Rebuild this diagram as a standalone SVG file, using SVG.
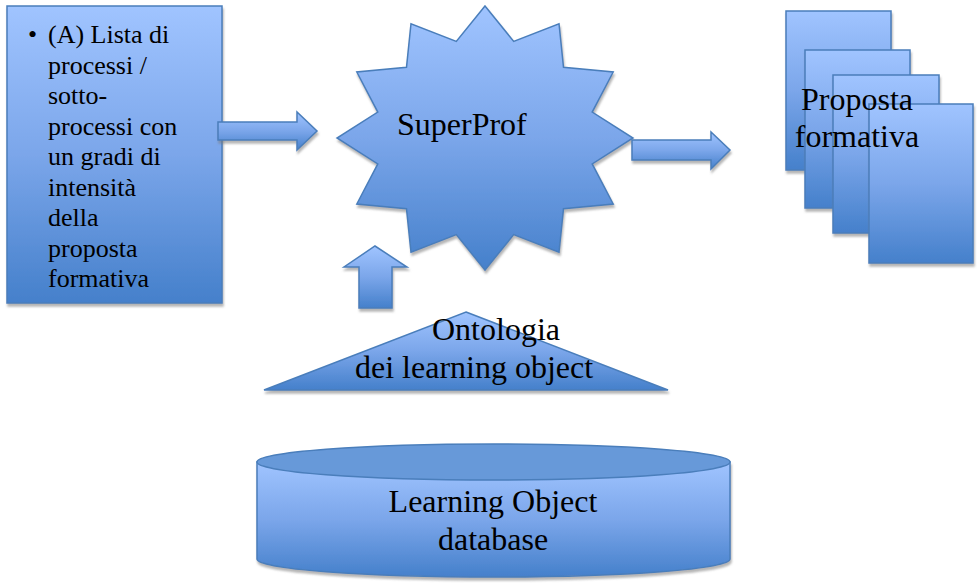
<svg xmlns="http://www.w3.org/2000/svg" width="979" height="583" viewBox="0 0 979 583">
<defs>
<linearGradient id="g" x1="0" y1="0" x2="0" y2="1">
<stop offset="0" stop-color="#a0c4ff"/>
<stop offset="0.5" stop-color="#7ba6ea"/>
<stop offset="1" stop-color="#4580cb"/>
</linearGradient>
<filter id="sh" x="-10%" y="-10%" width="120%" height="130%">
<feDropShadow dx="1" dy="3" stdDeviation="0.8" flood-color="#7a7a7a" flood-opacity="0.55"/>
</filter>
<style>
.s{fill:url(#g);stroke:#4a7ebb;stroke-width:1.5;filter:url(#sh)}
.t26{font-size:26px}
.t32{font-size:32px}
</style>
</defs>
<rect width="979" height="583" fill="#fff"/>
<g font-family="Liberation Serif, Tinos, DejaVu Serif, serif" fill="#000">
<g id="lista">
<rect class="s" x="7" y="6" width="215" height="297"/>
<text class="t26" x="28" y="43">•</text>
<text class="t26">
<tspan x="48" y="43">(A) Lista di</tspan>
<tspan x="48" y="73.5">processi /</tspan>
<tspan x="48" y="104">sotto-</tspan>
<tspan x="48" y="134.5">processi con</tspan>
<tspan x="48" y="165">un gradi di</tspan>
<tspan x="48" y="195.5">intensità</tspan>
<tspan x="48" y="226">della</tspan>
<tspan x="48" y="256.5">proposta</tspan>
<tspan x="48" y="287">formativa</tspan>
</text>
</g>
<g id="superprof">
<polygon class="s" points="485,6 513.7,41.4 559,23.7 563.5,67.3 613.2,72 592.2,112.1 633,138 592.2,163.9 613.2,204 563.5,208.7 559,252.3 513.7,234.6 485,270 456.3,234.6 411,252.3 406.5,208.7 356.8,204 377.8,163.9 337,138 377.8,112.1 356.8,72 406.5,67.3 411,23.7 456.3,41.4"/>
<text class="t32" x="397" y="135">SuperProf</text>
</g>
<g id="proposta">
<rect class="s" x="786" y="11" width="105" height="159"/>
<rect class="s" x="805" y="50" width="105" height="158"/>
<rect class="s" x="833" y="75" width="106" height="158"/>
<rect class="s" x="869" y="104" width="104" height="159"/>
<text class="t32" text-anchor="middle"><tspan x="857" y="110">Proposta</tspan><tspan x="857" y="147">formativa</tspan></text>
</g>
<g id="ontologia">
<polygon class="s" points="466,312 668,390 264,390"/>
<text class="t32" x="432" y="340">Ontologia</text>
<text class="t32" x="355" y="378">dei learning object</text>
</g>
<g id="database">
<path class="s" d="M257,462 L257,559 A236.5,18 0 0 0 730,559 L730,462 Z"/>
<ellipse cx="493.5" cy="462" rx="236.5" ry="18" fill="#6799d9" stroke="#4a7ebb" stroke-width="1.5"/>
<text class="t32" text-anchor="middle"><tspan x="493" y="512">Learning Object</tspan><tspan x="493" y="550">database</tspan></text>
</g>
</g>
<g id="connectors">
<polygon class="s" points="218,122 297,122 297,112 317,131 297,150 297,140 218,140"/>
<polygon class="s" points="632,140 711,140 711,132 730,150 711,169 711,160 632,160"/>
<polygon class="s" points="359,308 359,267 344,267 375,246 407,267 392,267 392,308"/>
</g>
</svg>
